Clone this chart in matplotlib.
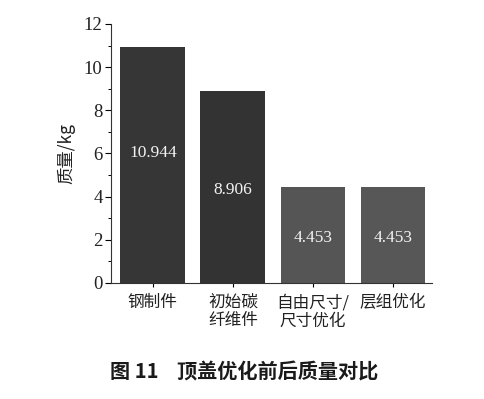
import matplotlib
matplotlib.use("Agg")
import matplotlib.pyplot as plt
import numpy as np
from matplotlib.ticker import MultipleLocator

# data
categories = ["钢制件", "初始碳\n纤维件", "自由尺寸/\n尺寸优化", "层组优化"]
masses = [10.944, 8.906, 4.453, 4.453]
value_labels = ["10.944", "8.906", "4.453", "4.453"]

# style
bar_colors = ["#363636", "#333333", "#555555", "#575757"]
label_y = [6.0, 4.3, 2.1, 2.1]
cjk = ["Noto Sans CJK SC", "DejaVu Sans"]
serif = ["Liberation Serif", "DejaVu Serif"]

fig = plt.figure(figsize=(4.84, 3.99), dpi=100)
ax = fig.add_axes([0.229, 0.291, 0.664, 0.649])

x = np.arange(len(categories))
ax.bar(x, masses, width=0.81, color=bar_colors)

for xi, yi, txt in zip(x, label_y, value_labels):
    ax.text(xi, yi, txt, ha="center", va="center", color="#f2f2f2",
            fontsize=12.5, family=serif)

ax.set_xlim(-0.525, 3.49)
ax.set_ylim(0, 12)
ax.yaxis.set_major_locator(MultipleLocator(2))
ax.yaxis.set_minor_locator(MultipleLocator(1))
ax.set_xticks(x)
ax.set_xticklabels(categories, family=cjk, fontsize=12, color="#222222",
                   linespacing=1.1)
for lbl in ax.get_yticklabels():
    lbl.set_family(serif)
    lbl.set_fontsize(13.5)
    lbl.set_color("#222222")

ax.tick_params(axis="y", which="major", length=4, width=0.8, direction="out", pad=2)
ax.tick_params(axis="y", which="minor", length=2.5, width=0.7, direction="out")
ax.tick_params(axis="x", length=3, width=0.8, direction="out", pad=5)

ax.spines["top"].set_visible(False)
ax.spines["right"].set_visible(False)
for s in ["left", "bottom"]:
    ax.spines[s].set_linewidth(0.8)
    ax.spines[s].set_color("#333333")

ax.set_ylabel("质量/kg", family=cjk, fontsize=12.5, color="#222222", labelpad=6)

fig.text(0.504, 0.068, "图 11    顶盖优化前后质量对比", ha="center", va="center",
         family=cjk, fontsize=14.5, fontweight="bold", color="#1a1a1a")

fig.savefig("out.png", dpi=100)
